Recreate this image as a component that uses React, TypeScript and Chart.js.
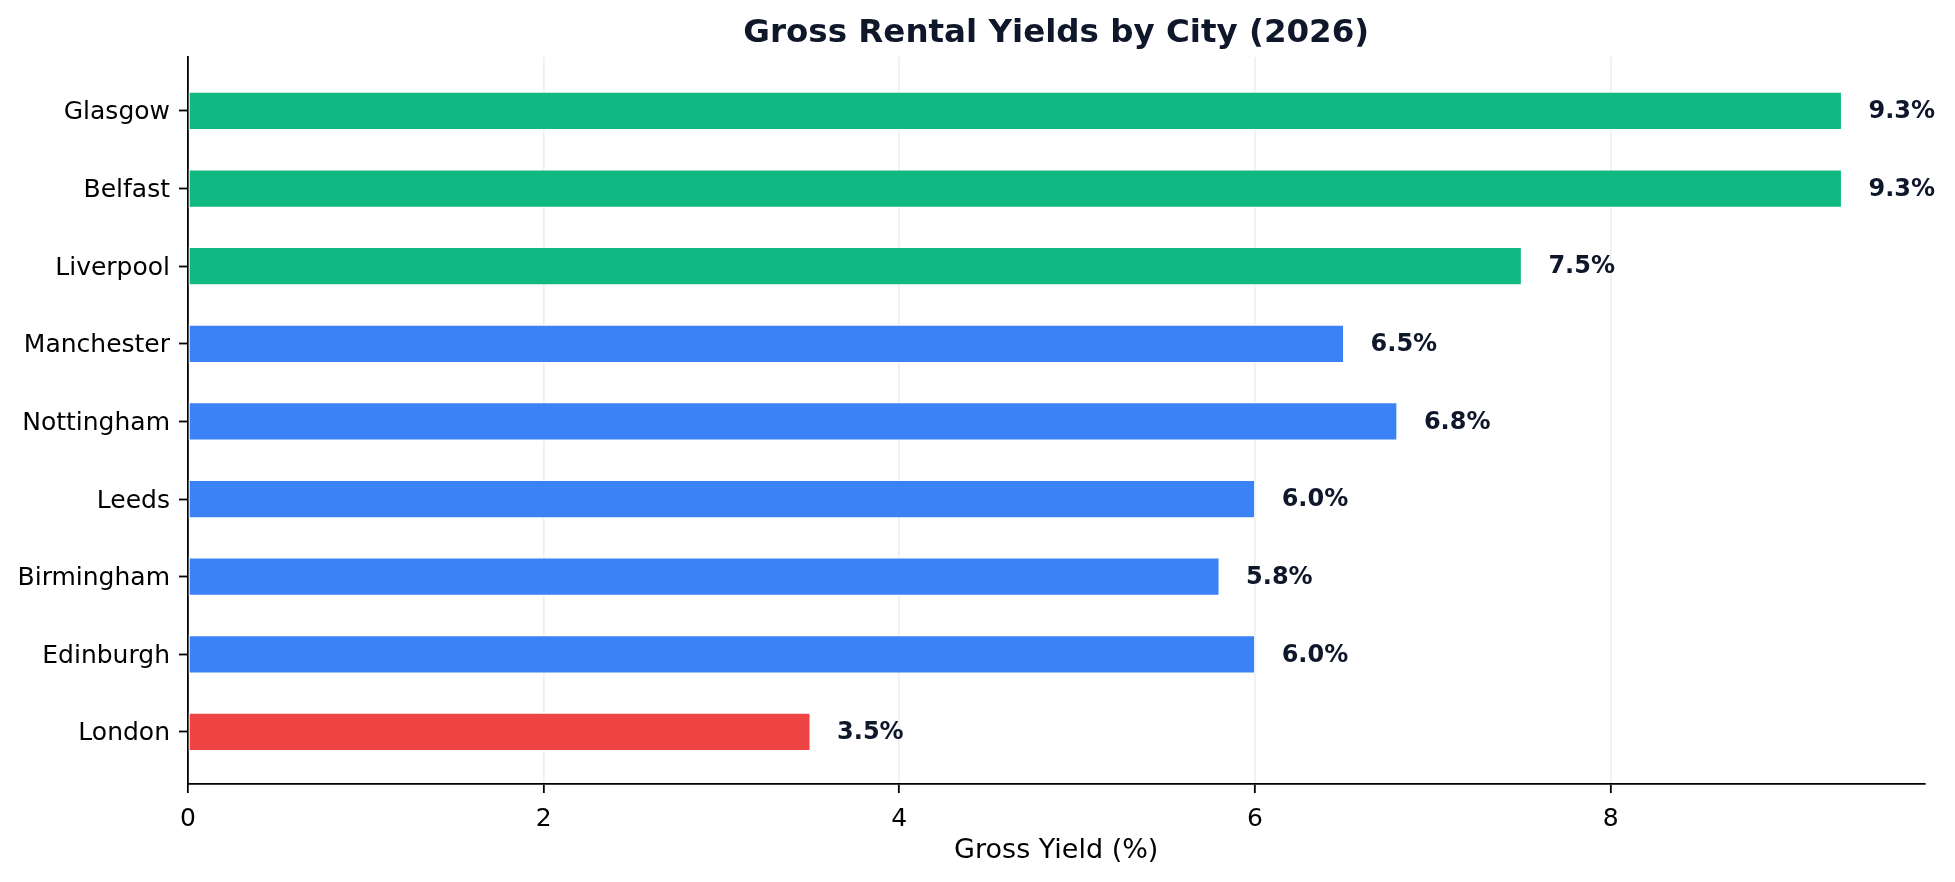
import React, { useEffect, useRef } from "react";
import { Chart, registerables } from "chart.js";

Chart.register(...registerables);

// Cities listed top to bottom as drawn
const cities = [
  "Glasgow",
  "Belfast",
  "Liverpool",
  "Manchester",
  "Nottingham",
  "Leeds",
  "Birmingham",
  "Edinburgh",
  "London",
];

// Gross rental yield, percent
const yields = [9.3, 9.3, 7.5, 6.5, 6.8, 6.0, 5.8, 6.0, 3.5];

// Tick values along the yield axis
const xTicks = [0, 2, 4, 6, 8];

const TITLE = "Gross Rental Yields by City (2026)";
const X_TITLE = "Gross Yield (%)";

const GREEN = "#10b981";
const BLUE = "#3b82f6";
const RED = "#ef4444";
const INK = "#0f172a";
const FONT = '"DejaVu Sans", "Noto Sans", sans-serif';

const colorFor = (v: number) => (v >= 7 ? GREEN : v < 4 ? RED : BLUE);

const W = 1955;
const H = 882;

const textPlugin = {
  id: "yieldText",
  afterDatasetsDraw(chart: any) {
    const { ctx, scales } = chart;
    const meta = chart.getDatasetMeta(0);
    ctx.save();
    ctx.font = `bold 24px ${FONT}`;
    ctx.fillStyle = INK;
    ctx.textAlign = "left";
    ctx.textBaseline = "middle";
    meta.data.forEach((bar: any, i: number) => {
      const v = yields[i];
      ctx.fillText(`${v.toFixed(1)}%`, scales.x.getPixelForValue(v + 0.15), bar.y + 1);
    });
    ctx.restore();
  },
  afterDraw(chart: any) {
    const { ctx, chartArea } = chart;
    const cx = (chartArea.left + chartArea.right) / 2;
    ctx.save();
    ctx.textAlign = "center";
    ctx.textBaseline = "alphabetic";
    ctx.fillStyle = INK;
    ctx.font = `bold 32.5px ${FONT}`;
    ctx.fillText(TITLE, cx, 42);
    ctx.fillStyle = "#000";
    ctx.font = `27px ${FONT}`;
    ctx.fillText(X_TITLE, cx, 858);
    ctx.restore();
  },
};

export default function App() {
  const ref = useRef<HTMLCanvasElement | null>(null);

  useEffect(() => {
    document.body.style.margin = "0";
    const canvas = ref.current;
    if (!canvas) return;
    const chart = new Chart(canvas, {
      type: "bar",
      data: {
        datasets: [
          {
            data: yields.map((v, i) => ({ x: v, y: i })),
            backgroundColor: yields.map(colorFor),
            borderColor: "rgba(255,255,255,0.75)",
            borderWidth: 1.2,
            borderSkipped: false,
            barThickness: 38,
          },
        ],
      },
      options: {
        indexAxis: "y",
        responsive: false,
        animation: false,
        devicePixelRatio: 1,
        layout: { padding: { top: 57, right: 30.5, bottom: 0, left: 0 } },
        plugins: {
          legend: { display: false },
          tooltip: { enabled: false },
          title: { display: false },
        },
        scales: {
          x: {
            type: "linear",
            min: 0,
            max: 9.765,
            z: 1,
            afterBuildTicks: (s: any) => {
              s.ticks = xTicks.map((value) => ({ value }));
            },
            afterFit: (s: any) => {
              s.height = H - 784;
            },
            grid: {
              color: "rgba(176,176,176,0.22)",
              lineWidth: 1.67,
              drawTicks: true,
              tickLength: 9,
              tickColor: "#000",
              tickWidth: 1.8,
            },
            border: { display: true, color: "#000", width: 1.8 },
            ticks: {
              color: "#000",
              font: { family: FONT, size: 25 },
              padding: 11,
              maxRotation: 0,
              autoSkip: false,
            },
          },
          y: {
            type: "linear",
            reverse: true,
            offset: false,
            min: -0.695,
            max: 8.67,
            afterBuildTicks: (s: any) => {
              s.ticks = cities.map((_, i) => ({ value: i }));
            },
            afterFit: (s: any) => {
              s.width = 188;
            },
            grid: {
              offset: false,
              drawOnChartArea: false,
              drawTicks: true,
              tickLength: 9,
              tickColor: "#000",
              tickWidth: 1.8,
            },
            border: { display: true, color: "#000", width: 1.8 },
            ticks: {
              color: "#000",
              font: { family: FONT, size: 25 },
              padding: 9,
              labelOffset: 2,
              autoSkip: false,
              callback: (v: any) => cities[v as number] ?? "",
            },
          },
        },
      },
      plugins: [textPlugin],
    });
    return () => chart.destroy();
  }, []);

  return <canvas ref={ref} width={W} height={H} style={{ display: "block" }} />;
}
